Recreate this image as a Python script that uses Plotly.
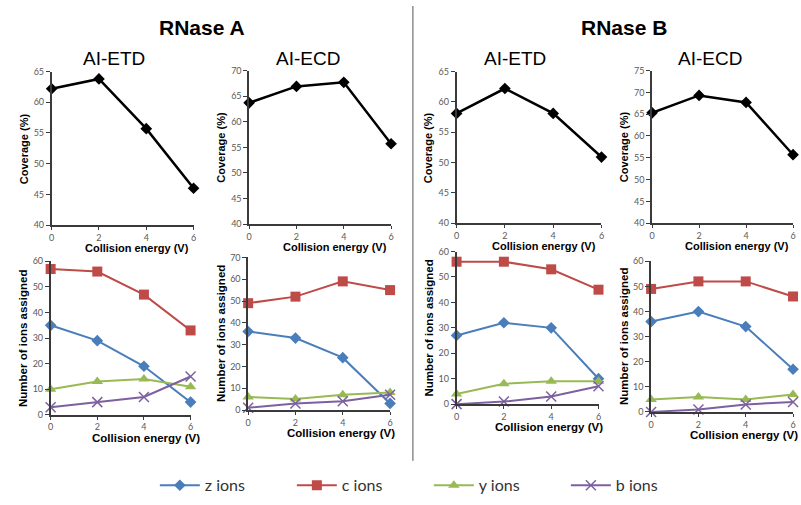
import plotly.graph_objects as go

W, H = 801, 505
energy = [0, 2, 4, 6]

# Coverage (%)
cov_A_ETD = [62.2, 63.8, 55.7, 46.0]
cov_A_ECD = [63.7, 66.9, 67.7, 55.7]
cov_B_ETD = [58.1, 62.2, 58.1, 50.9]
cov_B_ECD = [65.3, 69.3, 67.7, 55.7]

# Number of ions assigned
z_A_ETD = [35, 29, 19, 5]
c_A_ETD = [57, 56, 47, 33]
y_A_ETD = [10, 13, 14, 11]
b_A_ETD = [3, 5, 7, 15]

z_A_ECD = [36, 33, 24, 3]
c_A_ECD = [49, 52, 59, 55]
y_A_ECD = [6, 5, 7, 8]
b_A_ECD = [1, 3, 4, 7]

z_B_ETD = [27, 32, 30, 10]
c_B_ETD = [56, 56, 53, 45]
y_B_ETD = [4, 8, 9, 9]
b_B_ETD = [0, 1, 3, 7]

z_B_ECD = [36, 40, 34, 17]
c_B_ECD = [49, 52, 52, 46]
y_B_ECD = [5, 6, 5, 7]
b_B_ECD = [0, 1, 3, 4]

cov_ranges = [[40, 65], [40, 70], [40, 65], [40, 75]]
ion_ranges = [[0, 60], [0, 70], [0, 60], [0, 60]]

def px_x(p):
    return p / W

def px_y(p):
    return 1 - p / H

# pixel boxes (x0, x1, ytop, ybottom)
top_boxes = [(49, 192, 67, 224), (248, 391, 66, 223), (457, 603, 67, 222), (654, 796, 66, 222)]
bot_boxes = [(48, 189, 261, 418), (247, 390, 257, 413), (457, 600, 251, 407), (653, 796, 261, 415)]
# x-title offsets (dx from axis centre, dy below axis) and font size
top_xt = [(15, 23, 11), (15, 23, 11), (15, 23, 11), (15, 23, 11)]
bot_xt = [(26, 24, 11.5), (22, 23, 11.5), (22, 23, 11.5), (22, 24, 11.5)]

COL_Z = "#4A7EBB"
COL_C = "#BE4B48"
COL_Y = "#98B954"
COL_B = "#7D60A0"
AXC = "#3a3a3a"
TICKC = "#595959"
TICKFONT = dict(family="Lato, Open Sans, sans-serif", size=9, color=TICKC)
TITLEFAM = "Liberation Sans, Arial, sans-serif"

fig = go.Figure()
layout = {}
annotations = []

cov_sets = [cov_A_ETD, cov_A_ECD, cov_B_ETD, cov_B_ECD]
ion_sets = [
    (z_A_ETD, c_A_ETD, y_A_ETD, b_A_ETD),
    (z_A_ECD, c_A_ECD, y_A_ECD, b_A_ECD),
    (z_B_ETD, c_B_ETD, y_B_ETD, b_B_ETD),
    (z_B_ECD, c_B_ECD, y_B_ECD, b_B_ECD),
]

def add_axes(idx, box, yrange, dtick, ytitle, xt, ysize):
    x0, x1, yt, yb = box
    dx, dy, xsize = xt
    xn = "xaxis" if idx == 1 else f"xaxis{idx}"
    yn = "yaxis" if idx == 1 else f"yaxis{idx}"
    layout[xn] = dict(
        domain=[px_x(x0), px_x(x1)], range=[0, 6], tickvals=energy,
        anchor=f"y{'' if idx == 1 else idx}", showgrid=False, zeroline=False,
        showline=True, linecolor=AXC, linewidth=1.5, ticks="outside", ticklen=3,
        tickcolor=AXC, tickfont=TICKFONT, fixedrange=True,
    )
    layout[yn] = dict(
        domain=[px_y(yb), px_y(yt)], range=yrange, dtick=dtick,
        anchor=f"x{'' if idx == 1 else idx}", showgrid=False, zeroline=False,
        showline=True, linecolor=AXC, linewidth=1.5, ticks="outside", ticklen=4,
        tickcolor=AXC, tickfont=TICKFONT, fixedrange=True,
    )
    annotations.append(dict(
        text="<b>Collision energy (V)</b>", xref="paper", yref="paper",
        x=px_x((x0 + x1) / 2 + dx), y=px_y(yb + dy), showarrow=False,
        font=dict(family=TITLEFAM, size=xsize, color="black"),
        xanchor="center", yanchor="middle",
    ))
    annotations.append(dict(
        text=f"<b>{ytitle}</b>", xref="paper", yref="paper", textangle=-90,
        x=px_x(x0 - 28), y=px_y((yt + yb) / 2), showarrow=False,
        font=dict(family=TITLEFAM, size=ysize, color="black"),
        xanchor="center", yanchor="middle",
    ))

for i in range(4):
    idx = i + 1
    add_axes(idx, top_boxes[i], cov_ranges[i], 5, "Coverage (%)", top_xt[i], 11)
    fig.add_trace(go.Scatter(
        x=energy, y=cov_sets[i], mode="lines+markers",
        line=dict(color="black", width=2.5),
        marker=dict(symbol="diamond", size=9, color="black"),
        xaxis=f"x{'' if idx == 1 else idx}", yaxis=f"y{'' if idx == 1 else idx}",
        showlegend=False, cliponaxis=False,
    ))

names = ["z ions", "c ions", "y ions", "b ions"]
colors = [COL_Z, COL_C, COL_Y, COL_B]
symbols = ["diamond", "square", "triangle-up", "x-thin-open"]
msizes = [9, 10, 10, 10]

for i in range(4):
    idx = i + 5
    add_axes(idx, bot_boxes[i], ion_ranges[i], 10, "Number of ions assigned", bot_xt[i], 11.5)
    for k in range(4):
        mk = dict(symbol=symbols[k], size=msizes[k], color=colors[k])
        if symbols[k] == "x-thin-open":
            mk["line"] = dict(color=colors[k], width=1.5)
        fig.add_trace(go.Scatter(
            x=energy, y=ion_sets[i][k], mode="lines+markers", name=names[k],
            line=dict(color=colors[k], width=2), marker=mk,
            xaxis=f"x{idx}", yaxis=f"y{idx}",
            showlegend=(i == 0), cliponaxis=False,
        ))

# Headings
heads = [
    ("<b>RNase A</b>", 201, 22, 21),
    ("<b>RNase B</b>", 626, 22, 21),
    ("AI-ETD", 112, 54, 19),
    ("AI-ECD", 307, 54, 19),
    ("AI-ETD", 516, 54, 19),
    ("AI-ECD", 712, 54, 19),
]
for txt, x, y, s in heads:
    annotations.append(dict(
        text=txt, xref="paper", yref="paper", x=px_x(x), y=px_y(y),
        showarrow=False, xanchor="center", yanchor="middle",
        font=dict(family="Liberation Sans Narrow, Liberation Sans, Arial, sans-serif", size=s, color="black"),
    ))

layout["shapes"] = [dict(
    type="line", xref="paper", yref="paper",
    x0=px_x(413), x1=px_x(413), y0=px_y(0), y1=px_y(465),
    line=dict(color="#555555", width=1),
)]
layout["annotations"] = annotations

fig.update_layout(
    width=W, height=H, margin=dict(l=0, r=0, t=0, b=0),
    paper_bgcolor="white", plot_bgcolor="white",
    legend=dict(
        orientation="h", x=px_x(153), y=px_y(490), xanchor="left", yanchor="middle",
        font=dict(family="Lato, Open Sans, sans-serif", size=16, color="#333333"),
        entrywidth=82, itemwidth=40, bgcolor="rgba(0,0,0,0)",
    ),
    **layout,
)

fig.write_html(
    "out.html",
    config={"displayModeBar": False},
    post_script="document.body.style.margin='0';document.body.style.overflow='hidden';",
)
